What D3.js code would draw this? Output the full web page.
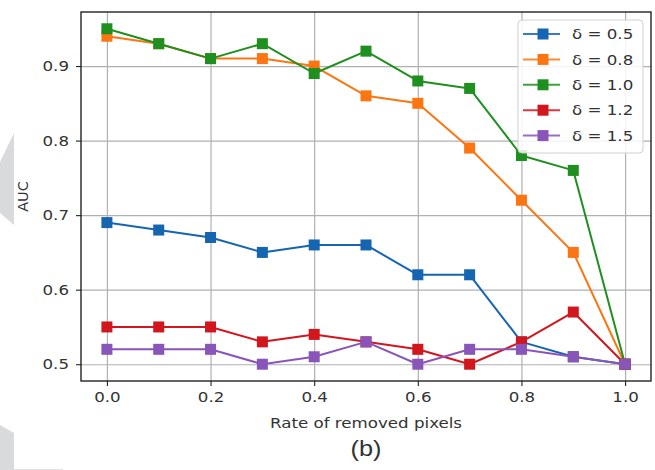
<!DOCTYPE html>
<html>
<head>
<meta charset="utf-8">
<script src="https://cdn.jsdelivr.net/npm/d3@7"></script>
<style>
  body { margin: 0; background: #ffffff; }
  svg { display: block; }
  text { font-family: "DejaVu Sans", sans-serif; fill: #333; }
</style>
</head>
<body>
<svg id="chart" width="655" height="470"></svg>
<script>
// Rate of removed pixels (x) and AUC per delta setting
const rates = [0.0, 0.1, 0.2, 0.3, 0.4, 0.5, 0.6, 0.7, 0.8, 0.9, 1.0];
const deltaLabels = ["δ = 0.5", "δ = 0.8", "δ = 1.0", "δ = 1.2", "δ = 1.5"];
const aucDelta05 = [0.69, 0.68, 0.67, 0.65, 0.66, 0.66, 0.62, 0.62, 0.53, 0.51, 0.50];
const aucDelta08 = [0.94, 0.93, 0.91, 0.91, 0.90, 0.86, 0.85, 0.79, 0.72, 0.65, 0.50];
const aucDelta10 = [0.95, 0.93, 0.91, 0.93, 0.89, 0.92, 0.88, 0.87, 0.78, 0.76, 0.50];
const aucDelta12 = [0.55, 0.55, 0.55, 0.53, 0.54, 0.53, 0.52, 0.50, 0.53, 0.57, 0.50];
const aucDelta15 = [0.52, 0.52, 0.52, 0.50, 0.51, 0.53, 0.50, 0.52, 0.52, 0.51, 0.50];
const seriesColors = ["#1565b0", "#fb7512", "#1f8f1f", "#d2161e", "#8a55b8"];
const xTickValues = [0.0, 0.2, 0.4, 0.6, 0.8, 1.0];
const yTickValues = [0.5, 0.6, 0.7, 0.8, 0.9];
const xTitle = "Rate of removed pixels";
const yTitle = "AUC";
const caption = "(b)";

const seriesValues = [aucDelta05, aucDelta08, aucDelta10, aucDelta12, aucDelta15];
const series = deltaLabels.map((label, i) => ({
  label,
  color: seriesColors[i],
  points: rates.map((r, j) => ({ x: r, y: seriesValues[i][j] }))
}));

const svg = d3.select("#chart");
const plot = { left: 81, right: 651, top: 12, bottom: 381 };
const stretch = 1.15; // horizontal glyph widening used for all labels

// light grey page tabs on the left margin
const sideMarks = svg.append("g").attr("fill", "#d9dadc");
sideMarks.append("polygon").attr("points", "0,162 14,133 14,225 0,213");
sideMarks.append("polygon").attr("points", "0,425 14,433 14,470 0,470");
svg.append("line").attr("x1", 14).attr("x2", 63).attr("y1", 469.5).attr("y2", 469.5)
  .attr("stroke", "#e2e2e2").attr("stroke-width", 1);

const x = d3.scaleLinear().domain([-0.05, 1.05]).range([plot.left, plot.right]);
const y = d3.scaleLinear().domain([0.4775, 0.9725]).range([plot.bottom, plot.top]);

// grid
const grid = svg.append("g");
grid.append("g")
  .attr("transform", `translate(0,${plot.bottom})`)
  .call(d3.axisBottom(x).tickValues(xTickValues).tickSize(-(plot.bottom - plot.top)).tickFormat(""))
  .call(g => g.select(".domain").remove())
  .call(g => g.selectAll("line").attr("stroke", "#b0b0b0").attr("stroke-width", 1.2));
grid.append("g")
  .attr("transform", `translate(${plot.left},0)`)
  .call(d3.axisLeft(y).tickValues(yTickValues).tickSize(-(plot.right - plot.left)).tickFormat(""))
  .call(g => g.select(".domain").remove())
  .call(g => g.selectAll("line").attr("stroke", "#b0b0b0").attr("stroke-width", 1.2));

// series lines and square markers
const line = d3.line().x(d => x(d.x)).y(d => y(d.y));
const markerSize = 11;
series.forEach(s => {
  const g = svg.append("g");
  g.append("path").datum(s.points)
    .attr("d", line).attr("fill", "none")
    .attr("stroke", s.color).attr("stroke-width", 2).attr("stroke-linejoin", "round");
  g.selectAll("rect").data(s.points).join("rect")
    .attr("x", d => x(d.x) - markerSize / 2)
    .attr("y", d => y(d.y) - markerSize / 2)
    .attr("width", markerSize).attr("height", markerSize)
    .attr("fill", s.color);
});

// frame
svg.append("rect")
  .attr("x", plot.left).attr("y", plot.top)
  .attr("width", plot.right - plot.left).attr("height", plot.bottom - plot.top)
  .attr("fill", "none").attr("stroke", "#111").attr("stroke-width", 1.3);

// axes with ticks and labels
const fontSize = 14.5;
svg.append("g")
  .attr("transform", `translate(0,${plot.bottom})`)
  .call(d3.axisBottom(x).tickValues(xTickValues).tickSize(5).tickPadding(6).tickFormat(d3.format(".1f")))
  .call(g => g.select(".domain").remove())
  .call(g => g.selectAll("line").attr("stroke", "#222").attr("stroke-width", 1.1))
  .call(g => g.selectAll("text")
    .attr("font-size", fontSize).attr("font-family", "DejaVu Sans").attr("fill", "#444")
    .attr("transform", `scale(${stretch},1)`));
svg.append("g")
  .attr("transform", `translate(${plot.left},0)`)
  .call(d3.axisLeft(y).tickValues(yTickValues).tickSize(5).tickPadding(7).tickFormat(d3.format(".1f")))
  .call(g => g.select(".domain").remove())
  .call(g => g.selectAll("line").attr("stroke", "#222").attr("stroke-width", 1.1))
  .call(g => g.selectAll("text")
    .attr("font-size", fontSize).attr("font-family", "DejaVu Sans").attr("fill", "#444")
    .attr("x", -12 / stretch)
    .attr("transform", `scale(${stretch},1)`));

// axis titles
svg.append("text")
  .attr("transform", `translate(${(plot.left + plot.right) / 2},428) scale(${stretch},1)`)
  .attr("text-anchor", "middle").attr("font-size", fontSize).attr("fill", "#444")
  .text(xTitle);
svg.append("text")
  .attr("transform", `translate(28,${(plot.top + plot.bottom) / 2}) rotate(-90)`)
  .attr("text-anchor", "middle").attr("font-size", fontSize).attr("fill", "#444")
  .text(yTitle);

// caption
svg.append("text")
  .attr("transform", `translate(${(plot.left + plot.right) / 2},456) scale(${stretch},1)`)
  .attr("text-anchor", "middle")
  .style("font-family", "'Liberation Sans', Arial, sans-serif")
  .attr("font-size", 22).attr("fill", "#111")
  .text(caption);

// legend
const legend = svg.append("g").attr("transform", "translate(518,20)");
legend.append("rect")
  .attr("width", 125).attr("height", 133).attr("rx", 4)
  .attr("fill", "#ffffff").attr("fill-opacity", 0.85)
  .attr("stroke", "#d0d0d0").attr("stroke-width", 1);
series.forEach((s, i) => {
  const row = legend.append("g").attr("transform", `translate(0,${14 + i * 25.4})`);
  row.append("line").attr("x1", 5).attr("x2", 42).attr("y1", 0).attr("y2", 0)
    .attr("stroke", s.color).attr("stroke-width", 2).attr("stroke-opacity", 0.85);
  row.append("rect").attr("x", 25 - markerSize / 2).attr("y", -markerSize / 2)
    .attr("width", markerSize).attr("height", markerSize).attr("fill", s.color);
  row.append("text")
    .attr("transform", `translate(54,0) scale(${stretch},1)`)
    .attr("dy", "0.36em").attr("font-size", fontSize).attr("fill", "#222")
    .text(s.label);
});
</script>
</body>
</html>
